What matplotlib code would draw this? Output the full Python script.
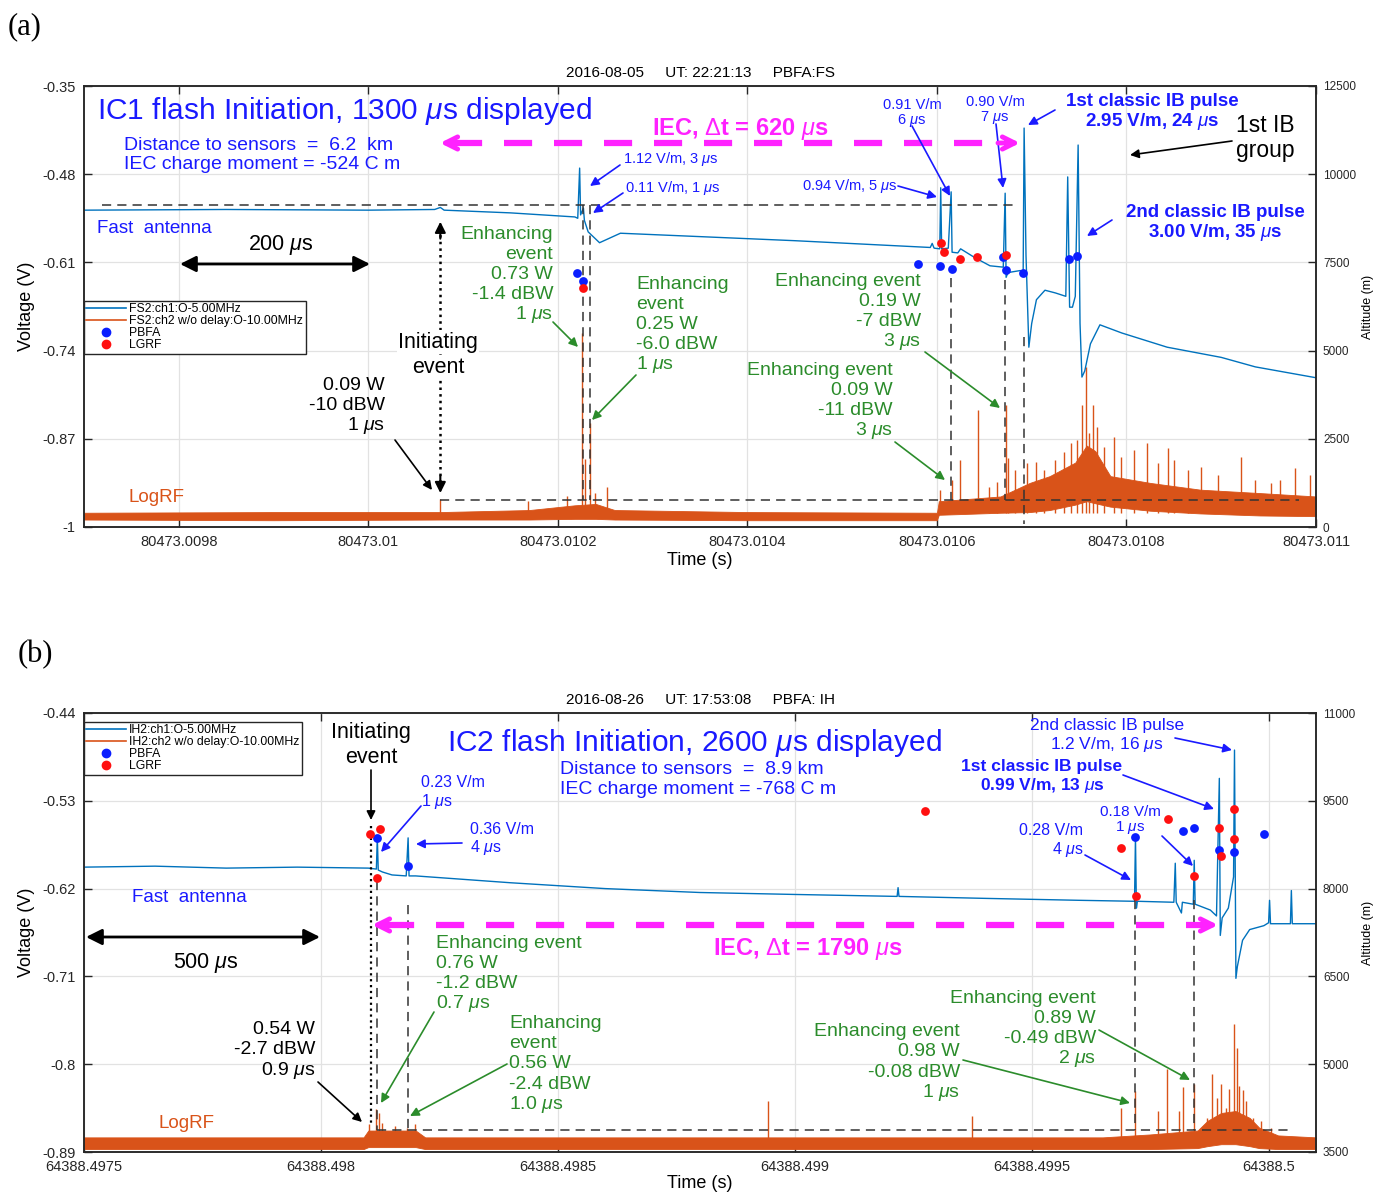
import matplotlib
matplotlib.use('Agg')
import matplotlib.pyplot as plt
from matplotlib.lines import Line2D

plt.rcParams['font.family'] = ['Liberation Sans', 'DejaVu Sans']
plt.rcParams['mathtext.fontset'] = 'custom'
plt.rcParams['mathtext.rm'] = 'Liberation Sans'
plt.rcParams['mathtext.it'] = 'Liberation Sans:italic'
plt.rcParams['mathtext.bf'] = 'Liberation Sans:bold'

# ---------------- panel (a): time in microseconds after 80473.0097 s ----------------
a_xticks = [100, 300, 500, 700, 900, 1100, 1300]
a_xlabels = ['80473.0098', '80473.01', '80473.0102', '80473.0104', '80473.0106', '80473.0108', '80473.011']
a_vticks = [-1, -0.87, -0.74, -0.61, -0.48, -0.35]
a_vlabels = ['-1', '-0.87', '-0.74', '-0.61', '-0.48', '-0.35']
a_alt_ticks = [0, 2500, 5000, 7500, 10000, 12500]

# fast antenna (V)
a_fa_t = [0, 150, 300, 370, 376, 380, 450, 518, 521, 523, 524, 527, 528, 532, 544, 566, 650, 750, 850,
          893, 895, 897, 903, 904, 905, 912, 915, 916, 922, 925, 940, 956, 970, 972, 973, 975, 988, 991,
          992, 994, 997, 1000, 1005, 1014, 1025, 1036, 1038, 1040, 1043, 1046, 1049, 1051, 1053, 1056,
          1062, 1072, 1095, 1143, 1200, 1236, 1300]
a_fa_v = [-0.533, -0.532, -0.533, -0.532, -0.529, -0.533, -0.537, -0.543, -0.545, -0.471, -0.540, -0.530,
          -0.548, -0.565, -0.581, -0.567, -0.572, -0.578, -0.585,
          -0.588, -0.582, -0.589, -0.590, -0.500, -0.590, -0.589, -0.506, -0.595, -0.596, -0.590, -0.603,
          -0.615, -0.617, -0.508, -0.632, -0.625, -0.622, -0.625,
          -0.412, -0.600, -0.735, -0.700, -0.665, -0.651, -0.655, -0.660, -0.484, -0.676, -0.676, -0.660,
          -0.437, -0.700, -0.779, -0.770,
          -0.730, -0.702, -0.714, -0.735, -0.750, -0.764, -0.780]

# LogRF dense noise core (V)
a_rf_t = [0, 200, 376, 470, 518, 540, 560, 700, 900, 902, 967, 998, 1019, 1046, 1058, 1067, 1083, 1125,
          1178, 1241, 1300]
a_rf_hi = [-0.979, -0.978, -0.978, -0.975, -0.968, -0.966, -0.975, -0.978, -0.979, -0.962, -0.955, -0.935,
           -0.925, -0.905, -0.880, -0.888, -0.925, -0.935, -0.945, -0.950, -0.955]
a_rf_lo = [-0.989, -0.990, -0.989, -0.989, -0.988, -0.988, -0.989, -0.990, -0.990, -0.982, -0.979, -0.978,
           -0.975, -0.967, -0.962, -0.965, -0.970, -0.976, -0.980, -0.983, -0.984]
# LogRF spikes (V)
a_spk_t = [376, 469, 510, 525, 529, 534, 539, 552, 903, 916, 924, 943, 955, 963, 973, 975, 982, 995,
           1005, 1013, 1025, 1034, 1041, 1048, 1053, 1057, 1060, 1065, 1069, 1076, 1087, 1094, 1108, 1122,
           1133, 1144, 1150, 1165, 1179, 1197, 1221, 1236, 1253, 1262, 1278, 1294]
a_spk_v = [-0.959, -0.962, -0.955, -0.714, -0.900, -0.847, -0.950, -0.941, -0.945, -0.931, -0.901, -0.828,
           -0.941, -0.934, -0.820, -0.898, -0.916, -0.906,
           -0.904, -0.916, -0.901, -0.889, -0.876, -0.872, -0.820, -0.764, -0.861, -0.820, -0.852, -0.882,
           -0.867, -0.897, -0.887, -0.876,
           -0.906, -0.884, -0.901, -0.916, -0.912, -0.923, -0.897, -0.931, -0.935, -0.931, -0.913, -0.923]

# located sources (altitude, m)
a_pbfa_t = [520, 527, 880, 903, 916, 970, 973, 991, 1039, 1048]
a_pbfa_alt = [7208, 6973, 7455, 7406, 7313, 7653, 7285, 7200, 7597, 7681]
a_lgrf_t = [527, 904, 907, 924, 942, 973]
a_lgrf_alt = [6783, 8050, 7795, 7597, 7653, 7710]

# ---------------- panel (b): time in microseconds after 64388.4975 s ----------------
b_xticks = [0, 500, 1000, 1500, 2000, 2500]
b_xlabels = ['64388.4975', '64388.498', '64388.4985', '64388.499', '64388.4995', '64388.5']
b_vticks = [-0.89, -0.8, -0.71, -0.62, -0.53, -0.44]
b_vlabels = ['-0.89', '-0.8', '-0.71', '-0.62', '-0.53', '-0.44']
b_alt_ticks = [3500, 5000, 6500, 8000, 9500, 11000]

b_fa_t = [0, 150, 300, 450, 600, 617, 619, 621, 630, 650, 680, 684, 686, 700, 900, 1100, 1300, 1500,
          1716, 1718, 1720, 1900, 2100, 2217, 2219, 2221, 2223, 2300, 2303, 2305, 2316, 2318, 2341, 2343,
          2345, 2377, 2390, 2396, 2398, 2402, 2415, 2426, 2428, 2431, 2434, 2445, 2460, 2490, 2500, 2502,
          2504, 2546, 2548, 2550, 2600]
b_fa_v = [-0.598, -0.597, -0.599, -0.598, -0.599, -0.600, -0.568, -0.601, -0.603, -0.606, -0.607, -0.568,
          -0.607, -0.607, -0.614, -0.620, -0.624, -0.626,
          -0.628, -0.619, -0.628, -0.630, -0.632, -0.633, -0.567, -0.640, -0.633, -0.634, -0.594, -0.634,
          -0.645, -0.634, -0.636, -0.591,
          -0.636, -0.642, -0.648, -0.507, -0.668, -0.650, -0.640, -0.608, -0.478, -0.712, -0.700, -0.673,
          -0.662, -0.658, -0.655, -0.632,
          -0.656, -0.656, -0.622, -0.656, -0.656]

b_rf_t = [0, 590, 600, 700, 720, 2150, 2250, 2350, 2371, 2400, 2430, 2460, 2480, 2520, 2600]
b_rf_hi = [-0.875, -0.875, -0.868, -0.868, -0.875, -0.875, -0.872, -0.868, -0.858, -0.850, -0.848, -0.855,
           -0.865, -0.873, -0.875]
b_rf_lo = [-0.887, -0.887, -0.885, -0.885, -0.887, -0.887, -0.887, -0.886, -0.884, -0.882, -0.882, -0.884,
           -0.886, -0.887, -0.887]
b_spk_t = [602, 616, 622, 629, 657, 682, 699, 1444, 1875, 2189, 2217, 2267, 2286, 2310, 2320, 2343, 2371,
           2381, 2392, 2400, 2411, 2417, 2426, 2434, 2438, 2446, 2453, 2468, 2483, 2504]
b_spk_v = [-0.861, -0.846, -0.850, -0.860, -0.863, -0.865, -0.861, -0.838, -0.853, -0.845, -0.827, -0.848,
           -0.805, -0.848, -0.823, -0.820, -0.855, -0.810, -0.835, -0.820, -0.845, -0.825, -0.759, -0.783,
           -0.822, -0.826, -0.838, -0.855, -0.858, -0.865]

b_pbfa_t = [619, 684, 2219, 2320, 2343, 2396, 2428, 2491]
b_pbfa_alt = [8860, 8380, 8877, 8986, 9031, 8654, 8620, 8928]
b_lgrf_t = [604, 625, 619, 1775, 2189, 2221, 2288, 2343, 2396, 2400, 2426, 2428]
b_lgrf_alt = [8928, 9014, 8175, 9322, 8689, 7867, 9185, 8209, 9031, 8552, 9356, 8843]

LINE_BLUE = '#0072bd'
ORANGE = '#d95319'
TXT_BLUE = '#1a1aff'
GREEN = '#2b8c2b'
MAGENTA = '#ff22ff'
DOT_BLUE = '#0a1eff'
DOT_RED = '#ff1010'
DARK = '#262626'

W, H = 1373, 1195
BOX_A = (84, 86, 1316, 527)
BOX_B = (84, 713, 1316, 1152)

fig = plt.figure(figsize=(W / 100, H / 100), dpi=100)


def fr(box, px, py):
    # pixel position in the reference -> axes fraction
    return ((px - box[0]) / (box[2] - box[0]), (box[3] - py) / (box[3] - box[1]))


def make_axes(box, xt, xl, xlim, vt, vl, alt_t, xlab_y):
    ax = fig.add_axes([box[0] / W, 1 - box[3] / H, (box[2] - box[0]) / W, (box[3] - box[1]) / H])
    ax.set_xlim(xlim)
    ax.set_ylim(vt[0], vt[-1])
    ax.set_xticks(xt)
    ax.set_xticklabels(xl)
    ax.set_yticks(vt)
    ax.set_yticklabels(vl)
    ax.set_axisbelow(True)
    ax.grid(True, color='#e2e2e2', lw=0.9)
    ax.tick_params(direction='in', length=6, width=1, top=True, labelsize=10.5, colors=DARK, pad=6)
    ax2 = ax.twinx()
    ax2.set_ylim(alt_t[0], alt_t[-1])
    ax2.set_yticks(alt_t)
    ax2.set_yticklabels([str(v) for v in alt_t])
    ax2.tick_params(direction='in', length=6, width=1, labelsize=8.5, colors=DARK, pad=5)
    for a in (ax, ax2):
        for s in a.spines.values():
            s.set_color(DARK)
            s.set_linewidth(1.1)
    ax.set_ylabel('Voltage (V)', fontsize=13)
    ax.yaxis.set_label_coords(-0.040, 0.5)
    ax2.set_ylabel('Altitude (m)', fontsize=9)
    ax2.yaxis.set_label_coords(1.037, 0.5)
    ax.set_xlabel('Time (s)', fontsize=13)
    ax.xaxis.set_label_coords(0.5, xlab_y)
    return ax, ax2


def note(ax, box, txt, px, py, dy=20, ha='left', color='k', fs=14, weight='normal', arrow=None, bg=False):
    # each line placed on its own baseline; py is the centre of the first line
    kw = {}
    if bg:
        kw['bbox'] = dict(fc='white', ec='none', pad=1)
    base = 0.36 * fs * 100 / 72
    for i, line in enumerate(txt.split('\n')):
        x, y = fr(box, px, py + i * dy + base)
        ax.text(x, y, line, transform=ax.transAxes, ha=ha, va='baseline', color=color, fontsize=fs,
                fontweight=weight, **kw)
    if arrow is not None:
        ax.annotate('', xy=fr(box, arrow[2], arrow[3]), xytext=fr(box, arrow[0], arrow[1]),
                    xycoords='axes fraction',
                    arrowprops=dict(arrowstyle='-|>', color=color, lw=1.2, mutation_scale=13,
                                    shrinkA=0, shrinkB=0))


def double_arrow(ax, box, x0, x1, py):
    ax.annotate('', xy=fr(box, x1, py), xytext=fr(box, x0, py), xycoords='axes fraction',
                arrowprops=dict(arrowstyle='<|-|>', color='k', lw=2, mutation_scale=24,
                                shrinkA=0, shrinkB=0))


def iec_arrow(ax, box, x0, x1, py):
    p0 = fr(box, x0 + 14, py)
    p1 = fr(box, x1 - 14, py)
    ax.plot([p0[0], p1[0]], [p0[1], p1[1]], transform=ax.transAxes, color=MAGENTA, lw=4.5,
            dashes=(4.5, 3.5))
    for a, b in ((x0 + 22, x0), (x1 - 22, x1)):
        ax.annotate('', xy=fr(box, b, py), xytext=fr(box, a, py), xycoords='axes fraction',
                    arrowprops=dict(arrowstyle='->', color=MAGENTA, lw=3.5, mutation_scale=22,
                                    shrinkA=0, shrinkB=0))


def legend(ax, box, labels, px, py):
    handles = [Line2D([], [], color=LINE_BLUE, lw=1.2), Line2D([], [], color=ORANGE, lw=1.2),
               Line2D([], [], color=DOT_BLUE, marker='o', ls='none', ms=6),
               Line2D([], [], color=DOT_RED, marker='o', ls='none', ms=6)]
    lg = ax.legend(handles, labels, loc='upper left', bbox_to_anchor=fr(box, px, py), fontsize=8.8,
                   handlelength=3.2, labelspacing=0.0, borderpad=0.2, handletextpad=0.3,
                   borderaxespad=0, fancybox=False, framealpha=1)
    lg.get_frame().set_edgecolor(DARK)
    lg.get_frame().set_linewidth(1.0)


dash = dict(color='#333333', lw=1.1, dashes=(6, 4))
MU = '$\\mu$'

# ======================= panel (a) =======================
axA, axA2 = make_axes(BOX_A, a_xticks, a_xlabels, (0, 1300), a_vticks, a_vlabels, a_alt_ticks, -0.057)
axA.fill_between(a_rf_t, a_rf_lo, a_rf_hi, color=ORANGE, lw=0.6)
axA.vlines(a_spk_t, -0.980, a_spk_v, color=ORANGE, lw=1.0)
axA.plot(a_fa_t, a_fa_v, color=LINE_BLUE, lw=1.0)
axA2.scatter(a_pbfa_t, a_pbfa_alt, s=40, color=DOT_BLUE, zorder=5, lw=0)
axA2.scatter(a_lgrf_t, a_lgrf_alt, s=40, color=DOT_RED, zorder=5, lw=0)

axA.plot([19, 981], [-0.525, -0.525], **dash)
axA.plot([376, 1282], [-0.960, -0.960], **dash)
axA.plot([527, 527], [-0.525, -0.960], **dash)
axA.plot([534, 534], [-0.525, -0.960], **dash)
axA.plot([915, 915], [-0.633, -0.960], **dash)
axA.plot([972, 972], [-0.636, -0.960], **dash)
axA.plot([992, 992], [-0.720, -0.995], **dash)
axA.plot([376, 376], [-0.560, -0.940], color='k', lw=1.8, ls=':')
for y0, y1 in ((-0.575, -0.550), (-0.925, -0.950)):
    axA.annotate('', xy=(376, y1), xytext=(376, y0),
                 arrowprops=dict(arrowstyle='-|>', color='k', lw=1.5, mutation_scale=16, shrinkA=0, shrinkB=0))

note(axA2, BOX_A, 'IC1 flash Initiation, 1300 ' + MU + 's displayed', 97, 108, color=TXT_BLUE, fs=21.5)
note(axA2, BOX_A, 'Distance to sensors  =  6.2  km\nIEC charge moment = -524 C m', 124, 143, dy=19,
     color=TXT_BLUE, fs=14)
note(axA2, BOX_A, 'Fast  antenna', 97, 226, color=TXT_BLUE, fs=13.5)
note(axA2, BOX_A, '200 ' + MU + 's', 281, 242, ha='center', fs=15.5)
double_arrow(axA2, BOX_A, 180, 370, 264)
note(axA2, BOX_A, 'Initiating\nevent', 438, 340, dy=25, ha='center', fs=15.5, bg=True)
note(axA2, BOX_A, '0.09 W\n-10 dBW\n1 ' + MU + 's', 385, 383, ha='right', fs=14, arrow=(395, 440, 432, 490))
note(axA2, BOX_A, 'Enhancing\nevent\n0.73 W\n-1.4 dBW\n1 ' + MU + 's', 553, 232, ha='right', color=GREEN,
     arrow=(553, 322, 578, 347))
note(axA2, BOX_A, 'Enhancing\nevent\n0.25 W\n-6.0 dBW\n1 ' + MU + 's', 636, 282, color=GREEN,
     arrow=(636, 375, 592, 420))
note(axA2, BOX_A, 'Enhancing event\n0.19 W\n-7 dBW\n3 ' + MU + 's', 921, 279, ha='right', color=GREEN,
     arrow=(925, 352, 1000, 408))
note(axA2, BOX_A, 'Enhancing event\n0.09 W\n-11 dBW\n3 ' + MU + 's', 893, 368, ha='right', color=GREEN,
     arrow=(895, 442, 945, 480))
note(axA2, BOX_A, '1.12 V/m, 3 ' + MU + 's', 623, 158, color=TXT_BLUE, fs=10.5, arrow=(620, 165, 590, 186))
note(axA2, BOX_A, '0.11 V/m, 1 ' + MU + 's', 625, 187, color=TXT_BLUE, fs=10.5, arrow=(623, 193, 593, 213))
note(axA2, BOX_A, '0.94 V/m, 5 ' + MU + 's', 898, 185, ha='right', color=TXT_BLUE, fs=10.5,
     arrow=(898, 186, 937, 197))
note(axA2, BOX_A, '0.91 V/m\n6 ' + MU + 's', 912, 104, dy=15, ha='center', color=TXT_BLUE, fs=10.5,
     arrow=(912, 126, 950, 196))
note(axA2, BOX_A, '0.90 V/m\n7 ' + MU + 's', 995, 101, dy=15, ha='center', color=TXT_BLUE, fs=10.5,
     arrow=(996, 124, 1003, 188))
note(axA2, BOX_A, '1st classic IB pulse\n2.95 V/m, 24 ' + MU + 's', 1152, 99, ha='center', color=TXT_BLUE,
     fs=13.5, weight='bold', arrow=(1055, 110, 1028, 125))
note(axA2, BOX_A, '1st IB\ngroup', 1265, 124, dy=25, ha='center', fs=16.5, arrow=(1232, 141, 1130, 155))
note(axA2, BOX_A, '2nd classic IB pulse\n3.00 V/m, 35 ' + MU + 's', 1215, 210, ha='center', color=TXT_BLUE,
     fs=13.5, weight='bold', arrow=(1112, 220, 1087, 236))
iec_arrow(axA2, BOX_A, 440, 1020, 143)
note(axA2, BOX_A, 'IEC, $\\Delta$t = 620 ' + MU + 's', 740, 127, ha='center', color=MAGENTA, fs=17,
     weight='bold')
note(axA2, BOX_A, 'LogRF', 128, 495, color=ORANGE, fs=13.5)
legend(axA2, BOX_A, ['FS2:ch1:O-5.00MHz', 'FS2:ch2 w/o delay:O-10.00MHz', 'PBFA', 'LGRF'], 84, 301)
fig.text(700 / W, 1 - 73 / H, '2016-08-05     UT: 22:21:13     PBFA:FS', ha='center', va='center',
         fontsize=11)
fig.text(8 / W, 1 - 27 / H, '(a)', ha='left', va='center', fontsize=22, family='Liberation Serif')

# ======================= panel (b) =======================
axB, axB2 = make_axes(BOX_B, b_xticks, b_xlabels, (0, 2600), b_vticks, b_vlabels, b_alt_ticks, -0.052)
axB.fill_between(b_rf_t, b_rf_lo, b_rf_hi, color=ORANGE, lw=0.6)
axB.vlines(b_spk_t, -0.880, b_spk_v, color=ORANGE, lw=1.0)
axB.plot(b_fa_t, b_fa_v, color=LINE_BLUE, lw=1.0)
axB2.scatter(b_pbfa_t, b_pbfa_alt, s=40, color=DOT_BLUE, zorder=5, lw=0)
axB2.scatter(b_lgrf_t, b_lgrf_alt, s=40, color=DOT_RED, zorder=5, lw=0)

axB.plot([619, 2545], [-0.867, -0.867], **dash)
axB.plot([619, 619], [-0.612, -0.867], **dash)
axB.plot([684, 684], [-0.637, -0.867], **dash)
axB.plot([2219, 2219], [-0.632, -0.867], **dash)
axB.plot([2343, 2343], [-0.632, -0.867], **dash)
axB.plot([606, 606], [-0.556, -0.860], color='k', lw=1.6, ls=':')

note(axB2, BOX_B, 'IC2 flash Initiation, 2600 ' + MU + 's displayed', 447, 740, color=TXT_BLUE, fs=21.5)
note(axB2, BOX_B, 'Distance to sensors  =  8.9 km\nIEC charge moment = -768 C m', 560, 767,
     color=TXT_BLUE, fs=14)
note(axB2, BOX_B, 'Initiating\nevent', 371, 730, dy=25, ha='center', fs=15.5, arrow=(371, 770, 371, 820))
note(axB2, BOX_B, '0.23 V/m\n1 ' + MU + 's', 421, 781, dy=19, color=TXT_BLUE, fs=11.5,
     arrow=(421, 806, 381, 852))
note(axB2, BOX_B, '0.36 V/m\n4 ' + MU + 's', 470, 828, dy=18, color=TXT_BLUE, fs=11.5,
     arrow=(462, 843, 416, 844))
note(axB2, BOX_B, 'Fast  antenna', 132, 895, color=TXT_BLUE, fs=13.5)
double_arrow(axB2, BOX_B, 86, 320, 937)
note(axB2, BOX_B, '500 ' + MU + 's', 206, 960, ha='center', fs=15.5)
note(axB2, BOX_B, '0.54 W\n-2.7 dBW\n0.9 ' + MU + 's', 315, 1027, dy=20.5, ha='right', fs=14,
     arrow=(318, 1082, 362, 1122))
note(axB2, BOX_B, 'Enhancing event\n0.76 W\n-1.2 dBW\n0.7 ' + MU + 's', 436, 941, color=GREEN,
     arrow=(434, 1012, 381, 1103))
note(axB2, BOX_B, 'Enhancing\nevent\n0.56 W\n-2.4 dBW\n1.0 ' + MU + 's', 509, 1021, dy=20.25, color=GREEN,
     arrow=(507, 1064, 410, 1116))
note(axB2, BOX_B, 'Enhancing event\n0.98 W\n-0.08 dBW\n1 ' + MU + 's', 960, 1029, dy=20.3, ha='right',
     color=GREEN, arrow=(963, 1060, 1130, 1103))
note(axB2, BOX_B, 'Enhancing event\n0.89 W\n-0.49 dBW\n2 ' + MU + 's', 1096, 996, ha='right', color=GREEN,
     arrow=(1099, 1030, 1190, 1080))
iec_arrow(axB2, BOX_B, 372, 1218, 925)
note(axB2, BOX_B, 'IEC, $\\Delta$t = 1790 ' + MU + 's', 808, 946, ha='center', color=MAGENTA, fs=17,
     weight='bold')
note(axB2, BOX_B, '0.28 V/m\n4 ' + MU + 's', 1083, 829, dy=19, ha='right', color=TXT_BLUE, fs=11.5,
     arrow=(1085, 855, 1131, 880))
note(axB2, BOX_B, '0.18 V/m\n1 ' + MU + 's', 1130, 810, dy=16, ha='center', color=TXT_BLUE, fs=11,
     arrow=(1162, 836, 1193, 866))
note(axB2, BOX_B, '1st classic IB pulse\n0.99 V/m, 13 ' + MU + 's', 1042, 765, dy=19, ha='center',
     color=TXT_BLUE, fs=12.5, weight='bold', arrow=(1123, 775, 1214, 809))
note(axB2, BOX_B, '2nd classic IB pulse\n1.2 V/m, 16 ' + MU + 's', 1107, 724, dy=19, ha='center',
     color=TXT_BLUE, fs=12.5, arrow=(1175, 738, 1232, 750))
note(axB2, BOX_B, 'LogRF', 158, 1121, color=ORANGE, fs=13.5)
legend(axB2, BOX_B, ['IH2:ch1:O-5.00MHz', 'IH2:ch2 w/o delay:O-10.00MHz', 'PBFA', 'LGRF'], 84, 722)
fig.text(700 / W, 1 - 700 / H, '2016-08-26     UT: 17:53:08     PBFA: IH', ha='center', va='center',
         fontsize=11)
fig.text(18 / W, 1 - 655 / H, '(b)', ha='left', va='center', fontsize=22, family='Liberation Serif')

fig.savefig('out.png', dpi=100)
